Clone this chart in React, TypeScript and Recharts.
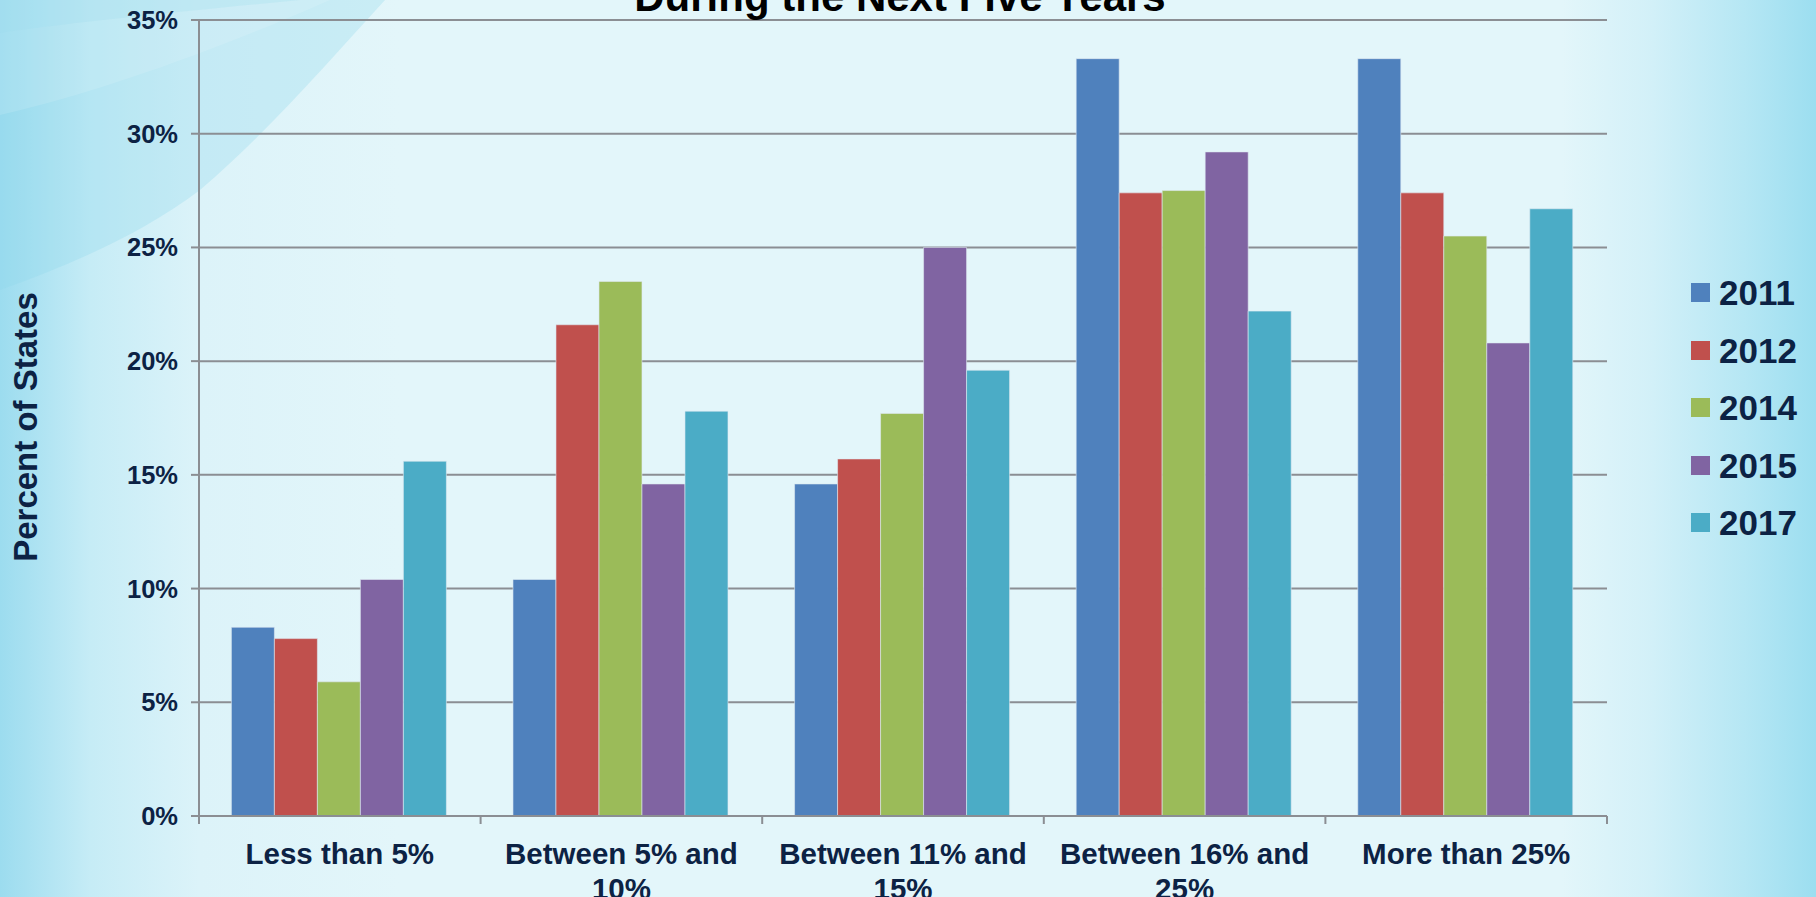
import React from 'react'
import { BarChart, Bar, XAxis, YAxis, CartesianGrid } from 'recharts'

// categories and yearly series (percent of states)
const categories = ['Less than 5%', 'Between 5% and 10%', 'Between 11% and 15%', 'Between 16% and 25%', 'More than 25%']
const years = ['2011', '2012', '2014', '2015', '2017']
const v2011 = [8.3, 10.4, 14.6, 33.3, 33.3]
const v2012 = [7.8, 21.6, 15.7, 27.4, 27.4]
const v2014 = [5.9, 23.5, 17.7, 27.5, 25.5]
const v2015 = [10.4, 14.6, 25.0, 29.2, 20.8]
const v2017 = [15.6, 17.8, 19.6, 22.2, 26.7]
const yTicks = [0, 5, 10, 15, 20, 25, 30, 35]
const colors = ['#4F81BD', '#C0504D', '#9BBB59', '#8064A2', '#4BACC6']

const series = [v2011, v2012, v2014, v2015, v2017]
const data = categories.map((name, i) => {
  const row: Record<string, any> = { name }
  years.forEach((y, j) => { row[y] = series[j][i] })
  return row
})

const FONT = 'Liberation Sans, Arial, Helvetica, sans-serif'
const NAVY = '#0c2244'
const AXIS_GRAY = '#8b8e93'
const LABEL_SIZE = 29.5

let ctx: CanvasRenderingContext2D | null = null
function wrap(text: string, maxWidth: number) {
  if (!ctx) ctx = document.createElement('canvas').getContext('2d')
  if (!ctx) return [text]
  ctx.font = `bold ${LABEL_SIZE}px ${FONT}`
  const lines: string[] = []
  let cur = ''
  for (const w of text.split(' ')) {
    const next = cur ? cur + ' ' + w : w
    if (cur && ctx.measureText(next).width > maxWidth) {
      lines.push(cur)
      cur = w
    } else cur = next
  }
  if (cur) lines.push(cur)
  return lines
}

function CategoryTick(props: any) {
  const { x, y, payload, index } = props
  const half = payload.offset || 0
  const axisY = y - 27
  const lines = wrap(String(payload.value), 255)
  return (
    <g>
      <line x1={x + half} x2={x + half} y1={axisY} y2={axisY + 8} stroke={AXIS_GRAY} strokeWidth={2} />
      {index === 0 && <line x1={x - half} x2={x - half} y1={axisY} y2={axisY + 8} stroke={AXIS_GRAY} strokeWidth={2} />}
      <text x={x} y={y + 21} textAnchor="middle" fill={NAVY} style={{ fontFamily: FONT, fontSize: LABEL_SIZE, fontWeight: 700 }}>
        {lines.map((l, i) => (
          <tspan key={i} x={x} dy={i === 0 ? 0 : 35}>{l}</tspan>
        ))}
      </text>
    </g>
  )
}

function LegendBox() {
  return (
    <div style={{ position: 'absolute', left: 1691, top: 264, fontFamily: FONT }}>
      {years.map((y, i) => (
        <div key={y} style={{ display: 'flex', alignItems: 'center', height: 57.5 }}>
          <span style={{ width: 19, height: 19, background: colors[i], display: 'inline-block', marginRight: 9 }} />
          <span style={{ fontSize: 35, fontWeight: 700, color: NAVY, lineHeight: 1 }}>{y}</span>
        </div>
      ))}
    </div>
  )
}

export default function App() {
  return (
    <div
      style={{
        position: 'absolute', left: 0, top: 0, width: 1816, height: 897, overflow: 'hidden',
        background: 'linear-gradient(90deg, #9cdcef 0%, #c6ecf6 5%, #dcf3f9 11%, #e3f6fa 22%, #e3f6fa 86%, #d2f0f8 91%, #b6e7f4 96%, #9cdef0 100%)',
      }}
    >
      {/* decorative swooshes in the top-left corner */}
      <svg width={1816} height={897} style={{ position: 'absolute', left: 0, top: 0 }}>
        <path d="M0,0 L385,0 C330,60 270,130 200,190 C140,235 70,265 0,290 Z" fill="#8fd6ec" opacity={0.3} />
        <path d="M0,0 L300,0 C200,10 90,20 0,33 Z" fill="#8fd6ec" opacity={0.25} />
        <path d="M0,0 L330,0 C240,40 110,90 0,115 Z" fill="#ffffff" opacity={0.12} />
      </svg>
      <div style={{ position: 'absolute', left: 0, top: 0 }}>
        <BarChart
          width={1816}
          height={897}
          data={data}
          margin={{ top: 20, right: 209, bottom: 0, left: 0 }}
          barCategoryGap="11.5%"
          barGap={0}
        >
          <text x={900} y={11} textAnchor="middle" fill="#000" style={{ fontFamily: FONT, fontSize: 42, fontWeight: 700 }}>
            During the Next Five Years
          </text>
          <text
            x={37}
            y={427}
            transform="rotate(-90 37 427)"
            textAnchor="middle"
            fill={NAVY}
            style={{ fontFamily: FONT, fontSize: 33, fontWeight: 700 }}
          >
            Percent of States
          </text>
          <CartesianGrid vertical={false} stroke={AXIS_GRAY} strokeWidth={2} />
          <XAxis
            dataKey="name"
            height={81}
            axisLine={{ stroke: AXIS_GRAY, strokeWidth: 2 }}
            tickLine={false}
            tickSize={8}
            tickMargin={19}
            interval={0}
            tick={<CategoryTick />}
          />
          <YAxis
            width={199}
            domain={[0, 35]}
            ticks={yTicks}
            interval={0}
            tickFormatter={(v: number) => `${v}%`}
            axisLine={{ stroke: AXIS_GRAY, strokeWidth: 2 }}
            tickLine={{ stroke: AXIS_GRAY, strokeWidth: 2 }}
            tickSize={8}
            tickMargin={13}
            tick={{ fill: NAVY, fontSize: 25.5, fontWeight: 700, fontFamily: FONT }}
          />
          {years.map((y, i) => (
            <Bar key={y} dataKey={y} fill={colors[i]} stroke="#dfe9f2" strokeWidth={0.6} isAnimationActive={false} />
          ))}
        </BarChart>
      </div>
      <LegendBox />
    </div>
  )
}
